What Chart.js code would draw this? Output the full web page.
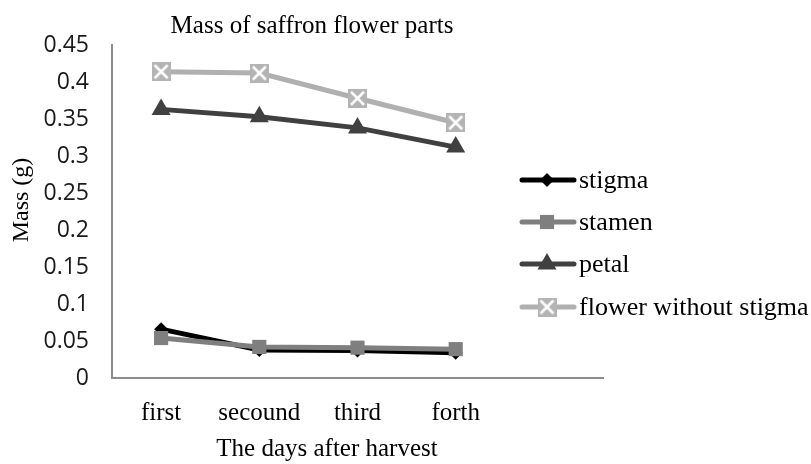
<!DOCTYPE html>
<html>
<head>
<meta charset="utf-8">
<script src="https://cdn.jsdelivr.net/npm/chart.js@4.4.1/dist/chart.umd.min.js"></script>
<style>
html,body{margin:0;padding:0;background:#fff;}
#wrap{width:811px;height:464px;position:relative;}
</style>
</head>
<body>
<div id="wrap"><canvas id="c" width="811" height="464"></canvas></div>
<script>
const categories = ['first', 'secound', 'third', 'forth', ''];
const stigma = [0.066, 0.038, 0.037, 0.034];
const stamen = [0.054, 0.042, 0.041, 0.039];
const petal = [0.363, 0.353, 0.338, 0.312];
const flowerWithoutStigma = [0.414, 0.412, 0.378, 0.345];
const seriesNames = ['stigma', 'stamen', 'petal', 'flower without stigma'];
const chartTitle = 'Mass of saffron flower parts';
const xTitle = 'The days after harvest';
const yTitle = 'Mass (g)';

function xBox(size) {
  const c = document.createElement('canvas');
  c.width = size; c.height = size;
  const g = c.getContext('2d');
  g.fillStyle = '#b4b4b4';
  g.fillRect(0, 0, size, size);
  g.strokeStyle = '#ffffff';
  g.lineWidth = 2.5;
  g.beginPath();
  g.moveTo(3, 3); g.lineTo(size - 3, size - 3);
  g.moveTo(size - 3, 3); g.lineTo(3, size - 3);
  g.stroke();
  return c;
}
const xMarker = xBox(19);

const datasets = [
  {label: seriesNames[0], data: stigma, borderColor: '#000000', backgroundColor: '#000000',
   pointStyle: 'rectRot', pointRadius: 7, borderWidth: 5, pointBorderWidth: 0, order: 1},
  {label: seriesNames[1], data: stamen, borderColor: '#7f7f7f', backgroundColor: '#7f7f7f',
   pointStyle: 'rect', pointRadius: 10, borderWidth: 5, pointBorderWidth: 0, order: 0},
  {label: seriesNames[2], data: petal, borderColor: '#404040', backgroundColor: '#404040',
   pointStyle: 'triangle', pointRadius: 11, borderWidth: 5, pointBorderWidth: 0, order: 2},
  {label: seriesNames[3], data: flowerWithoutStigma, borderColor: '#b0b0b0', backgroundColor: '#b4b4b4',
   pointStyle: xMarker, pointRadius: 10, borderWidth: 5, pointBorderWidth: 0, order: 3}
];
datasets.forEach(d => { d.tension = 0; d.fill = false; d.pointHoverRadius = d.pointRadius; });

const serif = "'Liberation Serif', 'Times New Roman', serif";
const sans = "'Open Sans', 'DejaVu Sans', sans-serif";

const overlay = {
  id: 'overlay',
  afterDraw(chart) {
    const ctx = chart.ctx;
    ctx.save();
    ctx.fillStyle = '#000';
    ctx.font = '25px ' + serif;
    ctx.textAlign = 'center';
    ctx.textBaseline = 'middle';
    ctx.fillText(chartTitle, 312, 26);
    ctx.fillText(xTitle, 327, 449);
    // y title
    ctx.save();
    ctx.translate(22, 200);
    ctx.rotate(-Math.PI / 2);
    ctx.font = '24px ' + serif;
    ctx.fillText(yTitle, 0, 0);
    ctx.restore();
    // legend
    const rows = [180, 222, 264, 307];
    chart.data.datasets.forEach((ds, i) => {
      const y = rows[i];
      ctx.strokeStyle = ds.borderColor;
      ctx.lineWidth = 5;
      ctx.lineCap = 'round';
      ctx.beginPath();
      ctx.moveTo(522, y); ctx.lineTo(574, y);
      ctx.stroke();
      ctx.fillStyle = ds.backgroundColor;
      Chart.helpers.drawPoint(ctx, {pointStyle: ds.pointStyle, radius: ds.pointRadius, borderWidth: 0, rotation: 0}, 547, y);
      ctx.fillStyle = '#000';
      ctx.font = '26px ' + serif;
      ctx.textAlign = 'left';
      ctx.textBaseline = 'middle';
      ctx.fillText(ds.label, 579, y + 1);
    });
    ctx.restore();
  }
};

new Chart(document.getElementById('c'), {
  type: 'line',
  data: {labels: categories, datasets},
  options: {
    responsive: false,
    animation: false,
    layout: {padding: {top: 45, right: 208, left: 0, bottom: 0}},
    plugins: {legend: {display: false}, title: {display: false}, tooltip: {enabled: false}},
    scales: {
      x: {
        offset: true,
        grid: {display: false, drawTicks: false},
        border: {display: true, color: '#8c8c8c', width: 2},
        ticks: {font: {family: serif, size: 25}, color: '#000', padding: 20, maxRotation: 0, autoSkip: false},
        afterFit(s) { s.height = 86; }
      },
      y: {
        min: 0, max: 0.45,
        grid: {display: false, drawTicks: true, tickLength: 7, tickColor: '#8c8c8c', tickWidth: 2},
        border: {display: true, color: '#8c8c8c', width: 2},
        ticks: {stepSize: 0.05, font: {family: sans, size: 23}, color: '#1a1a1a', padding: 16,
                callback: v => String(Math.round(v * 100) / 100)},
        title: {display: false},
        afterFit(s) { s.width = 112; }
      }
    }
  },
  plugins: [overlay]
});
</script>
</body>
</html>
